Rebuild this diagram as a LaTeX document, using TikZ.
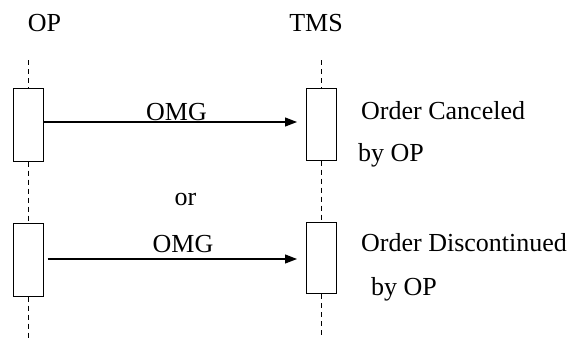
\documentclass[tikz,border=0pt]{standalone}
\usepackage{fontspec}
\setmainfont{Liberation Serif}
\usetikzlibrary{arrows.meta}
\begin{document}
\begin{tikzpicture}[x=1pt,y=-1pt,
  lbl/.style={inner sep=0pt,font=\fontsize{26}{32}\selectfont},
  actbox/.style={draw,line width=1pt,fill=white,minimum width=30pt,minimum height=73pt,inner sep=0pt},
  life/.style={line width=1pt,dash pattern=on 5pt off 4pt},
  msg/.style={line width=1.2pt,-{Triangle[length=12pt,width=9pt]}}]
\useasboundingbox (0,0) rectangle (574,338);
% headers
\node[lbl,anchor=base] (hop) at (44.5,31) {OP};
\node[lbl,anchor=base] (htms) at (316,31.5) {TMS};
% lifeline ends
\coordinate (opTop) at (28,60);
\coordinate (opBot) at (28,338);
\coordinate (tmsTop) at (321.5,60);
\coordinate (tmsBot) at (321.5,338);
% activation boxes
\node[actbox] (op1) at (28,124.5) {};
\node[actbox] (op2) at (28,259.5) {};
\node[actbox,minimum height=72pt] (tms1) at (321.5,124) {};
\node[actbox,minimum height=71pt] (tms2) at (321.5,258) {};
% lifelines
\draw[life] (opTop) -- (op1.north);
\draw[life] (op1.south) -- (op2.north);
\draw[life] (op2.south) -- (opBot);
\draw[life] (tmsTop) -- (tms1.north);
\draw[life] (tms1.south) -- (tms2.north);
\draw[life] (tms2.south) -- (tmsBot);
% messages
\draw[msg] ([yshift=2.5pt]op1.east) -- ([xshift=-9pt,yshift=2pt]tms1.west);
\draw[msg] ([xshift=4pt,yshift=0.5pt]op2.east) -- ([xshift=-9pt,yshift=-1pt]tms2.west);
% labels
\node[lbl,anchor=base] (m1) at (176.5,120.5) {OMG};
\node[lbl,anchor=base] (orl) at (185.5,205) {or};
\node[lbl,anchor=base] (m2) at (183,252) {OMG};
\node[lbl,anchor=base west] (c1a) at (361,119) {Order Canceled};
\node[lbl,anchor=base west] (c1b) at (358,161) {by OP};
\node[lbl,anchor=base west] (c2a) at (361,251) {Order Discontinued};
\node[lbl,anchor=base west] (c2b) at (371,295) {by OP};
\end{tikzpicture}
\end{document}
